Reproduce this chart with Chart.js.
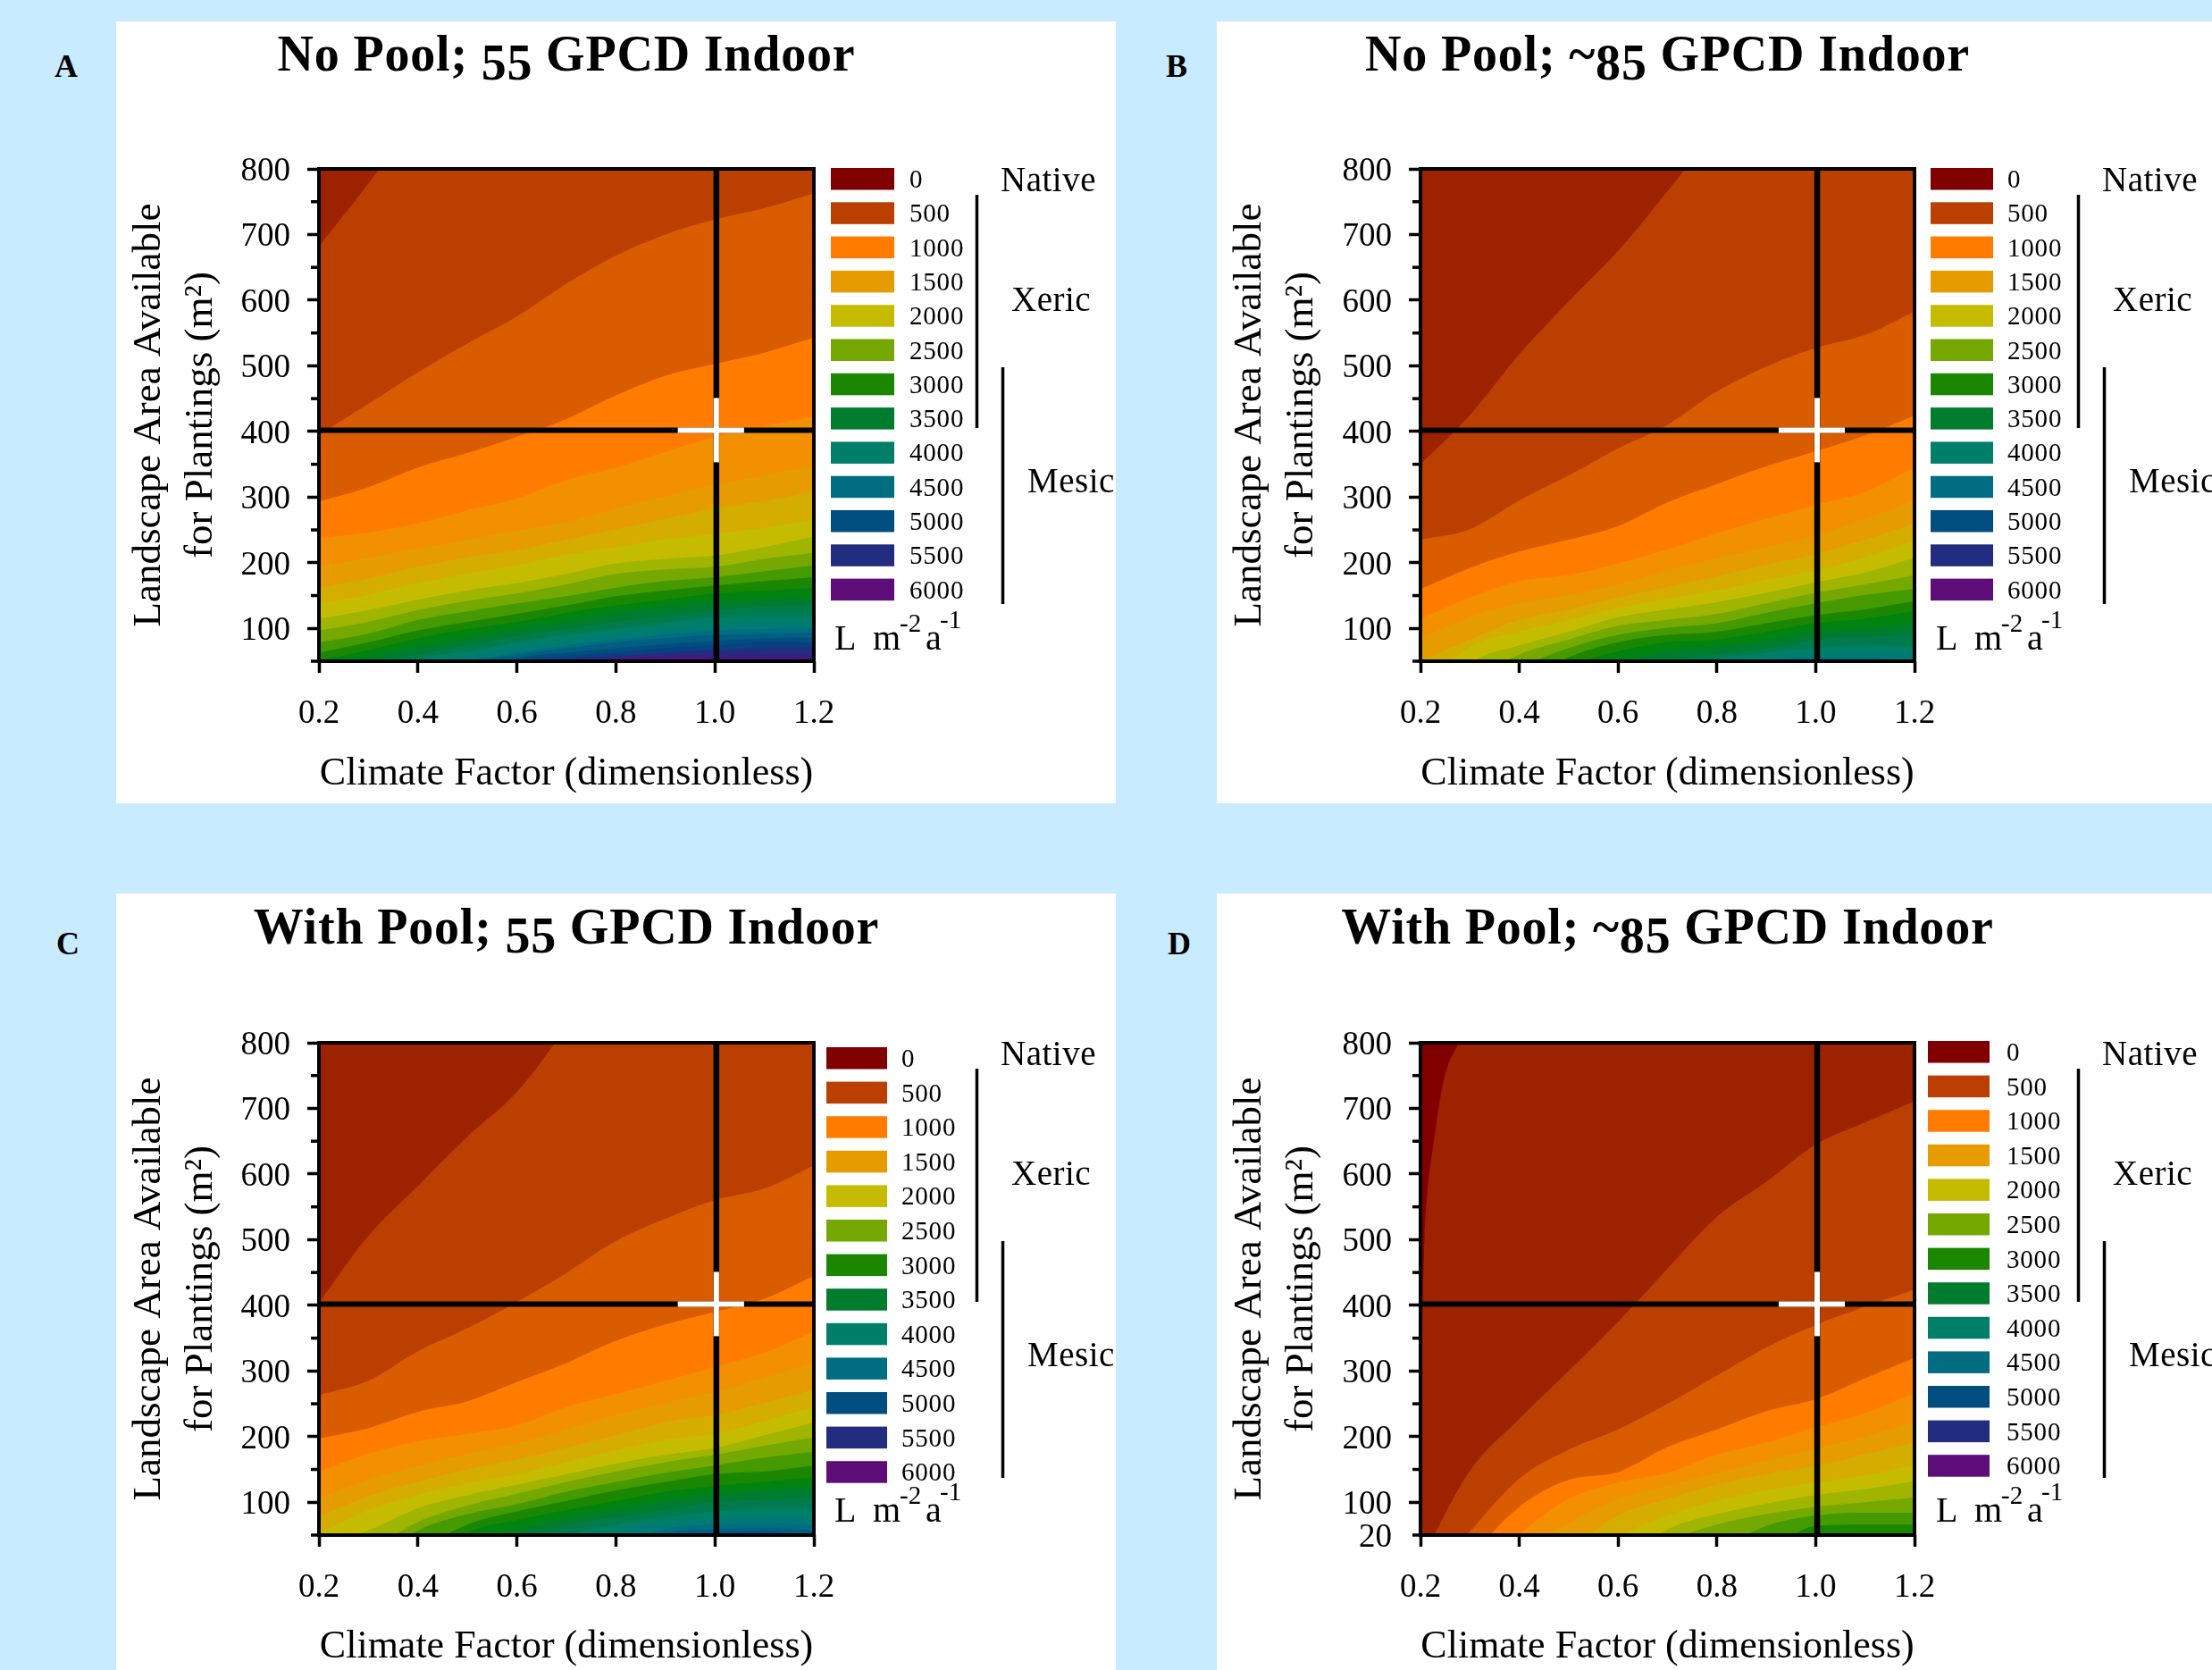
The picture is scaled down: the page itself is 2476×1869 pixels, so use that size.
<!DOCTYPE html>
<html>
<head>
<meta charset="utf-8">
<title>Landscape water use</title>
<script src="https://cdn.jsdelivr.net/npm/chart.js@4"></script>
<style>
  html, body { margin: 0; padding: 0; background: #C9EBFF; }
  body { position: relative; width: 2476px; height: 1869px; overflow: hidden; }
  .card { position: absolute; background: #fff; }
  .letter { position: absolute; font: bold 36px "Liberation Serif", serif; color: #000; transform: translate(-50%, -50%); }
</style>
</head>
<body>
<script>
const climateFactor = [0.2, 0.3, 0.4, 0.5, 0.6, 0.7, 0.8, 0.9, 1.0, 1.1, 1.2]

// contour colours in 250 L steps, index 0 = 0 L
const bandColors = [
  "#800000", "#9C2200", "#BB3F00", "#DA5C00", "#FF7C00", "#F29000", "#E69C00", "#D5AD00", "#C5BC00",
  "#9FB500", "#75A800", "#459A00", "#1B8700", "#008310", "#007C2E", "#007C4C", "#007F68", "#007A74",
  "#006E80", "#005E80", "#004E80", "#0A3F80", "#232D80", "#3F1B80", "#5C0D78"
]
const legendLabels = ["0", "500", "1000", "1500", "2000", "2500", "3000", "3500", "4000", "4500", "5000", "5500", "6000"]

// each row: where that level's contour sits, read at climateFactor. below 50 = off the plot
const noPool55Levels = [500, 750, 1000, 1250, 1500, 1750, 2000, 2250, 2500, 2750, 3000, 3250, 3500, 3750, 4000, 4250, 4500, 4750, 5000, 5250, 5500, 5750, 6000]
const noPool55 = [
  [682, 778, 880, 980, 1080, 1180, 1280, 1380, 1480, 1580, 1680],
  [395, 442, 490, 534, 575, 625, 668, 700, 723, 740, 763],
  [293, 315, 345, 367, 392, 419, 455, 485, 503, 520, 543],
  [237, 246, 260, 280, 298, 326, 345, 369, 392, 408, 423],
  [194, 208, 221, 235, 249, 262, 283, 301, 319, 333, 348],
  [162, 176, 194, 208, 219, 235, 251, 267, 283, 294, 308],
  [138, 151, 169, 183, 196, 212, 224, 235, 244, 253, 265],
  [115, 128, 144, 158, 169, 183, 199, 206, 211, 224, 240],
  [97, 110, 128, 142, 153, 167, 183, 190, 194, 206, 215],
  [79, 92, 113, 126, 138, 149, 162, 172, 178, 187, 196],
  [63, 79, 97, 110, 122, 135, 149, 158, 165, 172, 178],
  [51, 67, 85, 99, 110, 124, 135, 144, 153, 158, 162],
  [40, 56, 72, 85, 99, 110, 124, 133, 140, 144, 147],
  [25, 45, 60, 74, 88, 99, 110, 119, 128, 133, 135],
  [5, 35, 54, 65, 79, 90, 99, 108, 117, 119, 119],
  [-10, 20, 47, 58, 72, 81, 92, 99, 106, 110, 110],
  [-30, 5, 35, 51, 63, 74, 83, 90, 97, 99, 101],
  [-60, -30, 15, 47, 60, 70, 79, 85, 90, 92, 94],
  [-120, -80, -30, 20, 54, 63, 70, 76, 81, 85, 86],
  [-180, -130, -80, -20, 45, 58, 63, 70, 74, 79, 79],
  [-240, -180, -120, -50, 20, 51, 58, 63, 67, 70, 71],
  [-300, -240, -160, -80, 0, 45, 54, 58, 60, 60, 60],
  [-360, -300, -200, -100, -20, 30, 54, 54, 53, 52, 47]
]

const noPool85Levels = [500, 750, 1000, 1250, 1500, 1750, 2000, 2250, 2500, 2750, 3000, 3250, 3500, 3750, 4000, 4250, 4500]
const noPool85 = [
  [350, 425, 518, 598, 675, 766, 860, 950, 1040, 1130, 1230],
  [235, 251, 295, 333, 374, 410, 461, 499, 527, 547, 583],
  [160, 192, 217, 235, 256, 292, 320, 347, 370, 394, 424],
  [115, 147, 172, 181, 199, 220, 245, 267, 288, 308, 345],
  [85, 117, 138, 151, 167, 188, 207, 224, 242, 267, 295],
  [50, 83, 113, 129, 147, 163, 179, 197, 213, 235, 260],
  [4, 72, 95, 113, 131, 145, 158, 174, 188, 208, 233],
  [-51, 45, 74, 95, 117, 129, 140, 154, 170, 185, 208],
  [-96, 17, 60, 83, 104, 113, 122, 138, 154, 167, 181],
  [-142, -5, 40, 70, 90, 101, 108, 124, 138, 151, 160],
  [-187, -51, 13, 56, 79, 90, 95, 108, 120, 129, 142],
  [-232, -96, -19, 40, 65, 79, 83, 95, 108, 115, 126],
  [-280, -142, -51, 4, 45, 65, 72, 81, 95, 99, 108],
  [-320, -200, -100, -15, 17, 50, 60, 69, 83, 87, 90],
  [-400, -300, -200, -100, -20, 25, 53, 63, 70, 74, 72],
  [-500, -400, -300, -200, -100, -20, 35, 55, 60, 63, 62],
  [-600, -500, -400, -300, -200, -100, -30, 50, 55, 55, 48]
]

const withPool55Levels = [500, 750, 1000, 1250, 1500, 1750, 2000, 2250, 2500, 2750, 3000, 3250, 3500, 3750, 4000, 4250, 4500, 4750, 5000]
const withPool55 = [
  [404, 506, 582, 657, 725, 823, 920, 1020, 1120, 1220, 1320],
  [263, 285, 330, 365, 405, 449, 498, 532, 560, 578, 613],
  [197, 213, 238, 254, 283, 312, 346, 371, 390, 410, 445],
  [147, 174, 193, 204, 217, 245, 265, 285, 306, 328, 360],
  [107, 134, 156, 174, 190, 211, 233, 251, 269, 290, 312],
  [79, 109, 131, 150, 165, 183, 202, 222, 233, 251, 272],
  [52, 88, 111, 129, 143, 161, 179, 195, 204, 224, 245],
  [30, 57, 91, 111, 127, 143, 159, 172, 183, 202, 222],
  [-15, 25, 70, 95, 113, 131, 147, 161, 172, 186, 199],
  [-60, 5, 57, 82, 97, 116, 131, 145, 156, 168, 177],
  [-120, -40, 25, 66, 86, 102, 118, 131, 143, 147, 156],
  [-180, -90, -20, 52, 73, 88, 102, 116, 125, 131, 138],
  [-240, -150, -60, 15, 57, 75, 88, 102, 113, 118, 122],
  [-300, -210, -120, -40, 35, 64, 77, 88, 100, 104, 107],
  [-360, -270, -180, -100, -20, 45, 66, 77, 86, 91, 91],
  [-420, -330, -240, -160, -80, -10, 55, 68, 75, 77, 77],
  [-480, -390, -300, -220, -140, -60, 30, 59, 66, 68, 66],
  [-540, -450, -360, -280, -200, -120, -40, 52, 59, 61, 57],
  [-600, -510, -420, -340, -260, -180, -100, 45, 54, 55, 50]
]

const withPool85Levels = [500, 750, 1000, 1250, 1500, 1750, 2000, 2250, 2500, 2750, 3000]
const withPool85 = [
  [10, 148, 227, 300, 375, 456, 535, 588, 645, 679, 711],
  [-30, 55, 136, 180, 211, 250, 293, 336, 370, 398, 424],
  [-80, 15, 93, 134, 146, 184, 211, 239, 257, 289, 320],
  [-150, -30, 50, 105, 130, 145, 173, 191, 214, 236, 266],
  [-200, -90, 15, 68, 105, 125, 145, 164, 182, 200, 223],
  [-260, -140, -40, 25, 80, 105, 127, 143, 155, 173, 191],
  [-300, -200, -90, -20, 45, 80, 102, 118, 130, 141, 157],
  [-360, -250, -150, -60, 5, 59, 82, 98, 111, 120, 132],
  [-420, -310, -200, -120, -50, 35, 66, 82, 93, 100, 107],
  [-480, -370, -260, -170, -100, -20, 25, 64, 80, 84, 84],
  [-540, -430, -320, -230, -160, -80, -30, 20, 64, 66, 66]
]
// the thin 250 L strip on the left edge of panel D has its own x readings
const withPool85StripX = [0.2, 0.203, 0.208, 0.214, 0.227, 0.246, 0.279, 1.2]
const withPool85StripY = [263, 346, 498, 573, 649, 740, 800, 1500]

const crossX = 1.003
const crossY = 402
const whiteCrossX = 0.992
const serif = '"Liberation Serif", serif'

const panels = [
  { letter: "A", lx: 74, ly: 74, card: [130, 24, 1119, 875], plot: [357, 189, 911, 740], title: ["No Pool; ", "55", " GPCD Indoor"],
    levels: noPool55Levels, rows: noPool55, topBand: 1, swatch: [930, 188, 71, 38.3], labelX: 1018, unitY: 727, xPad: 8, titleY: 79 },
  { letter: "B", lx: 1317, ly: 74, card: [1362, 24, 1114, 875], plot: [1590, 189, 2143, 740], title: ["No Pool; ~", "85", " GPCD Indoor"],
    levels: noPool85Levels, rows: noPool85, topBand: 1, swatch: [2161, 188, 70, 38.3], labelX: 2247, unitY: 727, xPad: 8, titleY: 79 },
  { letter: "C", lx: 76, ly: 1056, card: [130, 1000, 1119, 869], plot: [357, 1167, 911, 1718], title: ["With Pool; ", "55", " GPCD Indoor"],
    levels: withPool55Levels, rows: withPool55, topBand: 1, swatch: [925, 1172, 68, 38.6], labelX: 1009, unitY: 1703, xPad: 1, titleY: 1056 },
  { letter: "D", lx: 1320, ly: 1056, card: [1362, 1000, 1114, 869], plot: [1590, 1167, 2143, 1718], title: ["With Pool; ~", "85", " GPCD Indoor"],
    levels: withPool85Levels, rows: withPool85, topBand: 0, swatch: [2158, 1165, 69, 38.6], labelX: 2246, unitY: 1703, xPad: 1, titleY: 1056, bottomLabel: "20" }
]

function toPoints(xs, ys) {
  return xs.map((x, i) => ({ x, y: ys[i] }))
}

function bandDataset(points, color, order) {
  return { data: points, backgroundColor: color, borderWidth: 0, pointRadius: 0, fill: "start", cubicInterpolationMode: "monotone", order }
}

function crossDataset(points, color, width, order) {
  return { data: points, borderColor: color, borderWidth: width, pointRadius: 0, fill: false, order }
}

function buildDatasets(p) {
  const sets = [bandDataset(toPoints(climateFactor, climateFactor.map(() => 800)), bandColors[p.topBand], 200)]
  if (p.topBand === 0) sets.push(bandDataset(toPoints(withPool85StripX, withPool85StripY), bandColors[1], 150))
  p.rows.forEach((row, i) => {
    sets.push(bandDataset(toPoints(climateFactor, row), bandColors[p.levels[i] / 250], 100 - i))
  })
  sets.push(crossDataset(toPoints([0.2, 1.2], [crossY, crossY]), "#000", 6, 2))
  sets.push(crossDataset(toPoints([crossX, crossX], [50, 800]), "#000", 6.5, 2))
  sets.push(crossDataset(toPoints([whiteCrossX - 0.067, whiteCrossX + 0.067], [crossY, crossY]), "#fff", 6, 1))
  sets.push(crossDataset(toPoints([crossX, crossX], [crossY - 49, crossY + 49]), "#fff", 6, 1))
  return sets
}

// title, legend, brackets and the bits Chart.js has no option for
const panelDecor = {
  id: "panelDecor",
  afterDraw(chart, args, opts) {
    const p = opts.panel
    const ctx = chart.ctx
    const [cx, cy] = p.card
    const rel = x => x - cx
    const relY = y => y - cy
    const area = chart.chartArea
    ctx.save()

    // frame + minor y ticks
    ctx.strokeStyle = "#000"
    ctx.lineWidth = 4
    ctx.strokeRect(area.left, area.top, area.right - area.left, area.bottom - area.top)
    const yScale = chart.scales.y
    ctx.lineWidth = 3.5
    yScale.ticks.forEach(t => {
      if (t.value % 100 === 0) return
      const py = yScale.getPixelForValue(t.value)
      ctx.beginPath()
      ctx.moveTo(area.left - 9, py)
      ctx.lineTo(area.left, py)
      ctx.stroke()
    })

    // title, old-style digits sit lower
    ctx.fillStyle = "#000"
    ctx.textBaseline = "alphabetic"
    ctx.textAlign = "left"
    ctx.font = `bold 56px ${serif}`
    ctx.letterSpacing = "0.8px"
    const widths = p.title.map(s => ctx.measureText(s).width)
    let tx = (area.left + area.right) / 2 - widths.reduce((a, b) => a + b, 0) / 2
    const tBase = relY(p.titleY)
    p.title.forEach((s, i) => {
      ctx.fillText(s, tx, tBase + (i === 1 ? 10 : 0))
      tx += widths[i]
    })

    // legend swatches
    const [sx, sy, sw, step] = p.swatch
    ctx.font = `29px ${serif}`
    ctx.letterSpacing = "0.8px"
    legendLabels.forEach((label, i) => {
      const top = relY(sy + i * step)
      ctx.fillStyle = bandColors[i * 2]
      ctx.fillRect(rel(sx), top, sw, 24.5)
      ctx.fillStyle = "#000"
      ctx.fillText(label, rel(p.labelX), top + 22)
    })

    // Native / Xeric / Mesic
    const left = area.left
    const top = area.top
    ctx.font = `39px ${serif}`
    ctx.letterSpacing = "0.5px"
    ctx.fillText("Native", left + 763, top + 25)
    ctx.fillText("Xeric", left + 775, top + 159)
    ctx.fillText("Mesic", left + 793, top + 362)
    ctx.lineWidth = 3.5
    ctx.beginPath()
    ctx.moveTo(left + 736.5, top + 29)
    ctx.lineTo(left + 736.5, top + 290)
    ctx.moveTo(left + 765.5, top + 222)
    ctx.lineTo(left + 765.5, top + 487)
    ctx.stroke()

    // L m-2 a-1
    const ub = relY(p.unitY)
    ctx.letterSpacing = "0px"
    ctx.font = `40px ${serif}`
    ctx.fillText("L", left + 577, ub)
    ctx.fillText("m", left + 620, ub)
    ctx.fillText("a", left + 679, ub)
    ctx.font = `29px ${serif}`
    ctx.fillText("-2", left + 650, ub - 20)
    ctx.fillText("-1", left + 695, ub - 24)
    ctx.restore()
  }
}

panels.forEach(p => {
  const [cx, cy, cw, ch] = p.card
  const [pl, pt, pr, pb] = p.plot

  const card = document.createElement("div")
  card.className = "card"
  card.style.cssText = `left:${cx}px;top:${cy}px;width:${cw}px;height:${ch}px`
  const canvas = document.createElement("canvas")
  canvas.width = cw
  canvas.height = ch
  canvas.style.display = "block"
  card.appendChild(canvas)
  document.body.appendChild(card)

  const letter = document.createElement("div")
  letter.className = "letter"
  letter.textContent = p.letter
  letter.style.left = p.lx + "px"
  letter.style.top = p.ly + "px"
  document.body.appendChild(letter)

  new Chart(canvas, {
    type: "line",
    data: { datasets: buildDatasets(p) },
    plugins: [panelDecor],
    options: {
      responsive: false,
      animation: false,
      events: [],
      layout: { padding: { left: 0, top: pt - cy, right: cx + cw - pr, bottom: 0 } },
      plugins: {
        legend: { display: false },
        tooltip: { enabled: false },
        panelDecor: { panel: p }
      },
      scales: {
        x: {
          type: "linear",
          min: 0.2,
          max: 1.2,
          afterFit: s => { s.height = cy + ch - pb },
          border: { display: false },
          grid: { drawOnChartArea: false, tickLength: 13, tickWidth: 3.5, tickColor: "#000" },
          ticks: {
            stepSize: 0.2,
            color: "#000",
            font: { family: serif, size: 37 },
            padding: 24,
            maxRotation: 0,
            autoSkip: false,
            callback: v => Number(v).toFixed(1)
          },
          title: {
            display: true,
            text: "Climate Factor (dimensionless)",
            color: "#000",
            font: { family: serif, size: 44, lineHeight: 1.1 },
            padding: { top: 0, bottom: p.xPad }
          }
        },
        y: {
          type: "linear",
          min: 50,
          max: 800,
          afterFit: s => { s.width = pl - cx },
          border: { display: false },
          grid: {
            drawOnChartArea: false,
            tickLength: 13,
            tickWidth: 3.5,
            tickColor: ctx => (ctx.tick && ctx.tick.value % 100 === 0 ? "#000" : "rgba(0,0,0,0)")
          },
          ticks: {
            stepSize: 50,
            color: "#000",
            font: { family: serif, size: 37 },
            padding: 19,
            labelOffset: 3,
            autoSkip: false,
            callback: v => {
              if (v === 50) return p.bottomLabel || ""
              return v % 100 === 0 ? String(v) : ""
            }
          },
          title: {
            display: true,
            text: ["Landscape Area Available", "for Plantings (m²)"],
            color: "#000",
            font: { family: serif, size: 45, lineHeight: 1.29 },
            padding: { top: 8, bottom: 0 }
          }
        }
      }
    }
  })
})
</script>
</body>
</html>
